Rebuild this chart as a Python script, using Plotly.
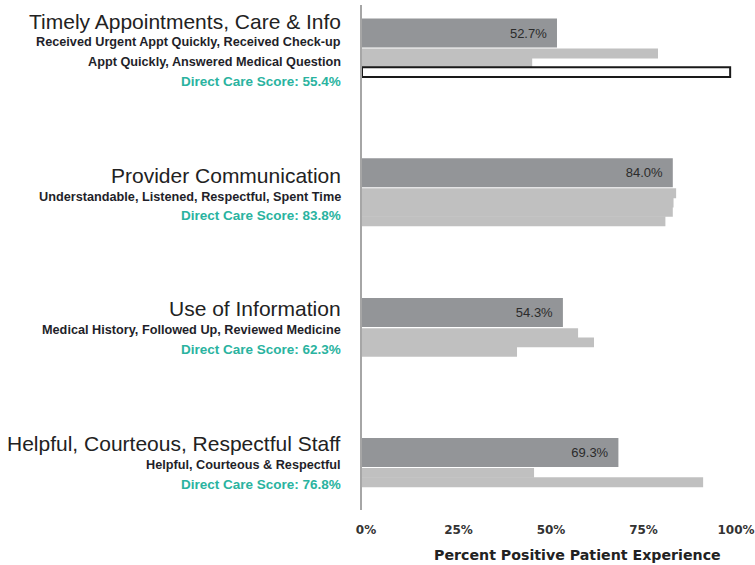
import plotly.graph_objects as go

# ---------------- data ----------------
groups = [
    "Timely Appointments, Care & Info",
    "Provider Communication",
    "Use of Information",
    "Helpful, Courteous, Respectful Staff",
]
subtitles = [
    ["Received Urgent Appt Quickly, Received Check-up", "Appt Quickly, Answered Medical Question"],
    ["Understandable, Listened, Respectful, Spent Time"],
    ["Medical History, Followed Up, Reviewed Medicine"],
    ["Helpful, Courteous & Respectful"],
]
direct_care_score = [55.4, 83.8, 62.3, 76.8]
composite = [52.7, 84.0, 54.3, 69.3]
item_scores = [
    [80.0, 46.0, 99.5],
    [84.9, 84.2, 84.0, 82.0],
    [58.4, 62.7, 41.9],
    [46.5, 92.2],
]
tick_vals = [0, 25, 50, 75, 100]
tick_text = ["0%", "25%", "50%", "75%", "100%"]
axis_title = "Percent Positive Patient Experience"

# ---------------- layout geometry (pixels) ----------------
W, H = 755, 565
L, R, T, B = 362, 5, 5, 55
plot_w = W - L - R
plot_h = H - T - B
px_per_pct = 3.7
group_px = 139.8          # vertical distance between groups
first_center_px = 28      # centre of first composite bar below plot top
dark_h_px = 29
sub_h_px = 9.3
sub_first_off_px = 20.5

def py_to_paper(py):
    return 1 - (py - T) / plot_h

# outlined item (group, index)
outlined = {(0, 2)}

# composite bars
dark_trace = go.Bar(
    orientation="h",
    x=composite,
    y=list(range(len(groups))),
    width=dark_h_px / group_px,
    marker=dict(color="#939598", line=dict(width=0)),
    text=composite,
    texttemplate="%{x:.1f}%\u00a0\u00a0",
    textposition="inside",
    insidetextanchor="end",
    textangle=0,
    textfont=dict(family="Liberation Sans, Arial", size=13, color="#2b2b2b"),
    hoverinfo="skip",
    showlegend=False,
)

sx, sy, scol, slw, slc = [], [], [], [], []
for gi, vals in enumerate(item_scores):
    for k, v in enumerate(vals):
        sx.append(v)
        sy.append(gi + (sub_first_off_px + sub_h_px * k) / group_px)
        if (gi, k) in outlined:
            scol.append("#ffffff")
            slw.append(2)
            slc.append("#1a1a1a")
        else:
            scol.append("#c0c0c0")
            slw.append(0)
            slc.append("#c0c0c0")

item_trace = go.Bar(
    orientation="h",
    x=sx,
    y=sy,
    width=(sub_h_px + 0.6) / group_px,
    marker=dict(color=scol, line=dict(width=slw, color=slc)),
    hoverinfo="skip",
    showlegend=False,
)

fig = go.Figure([item_trace, dark_trace])

y_top = -(first_center_px) / group_px
y_bot = (plot_h - first_center_px) / group_px

fig.update_layout(
    width=W, height=H,
    margin=dict(l=L, r=R, t=T, b=B, pad=0, autoexpand=False),
    paper_bgcolor="white", plot_bgcolor="white",
    barmode="overlay",
    xaxis=dict(
        range=[0, plot_w / px_per_pct],
        automargin=False,
        tickvals=tick_vals, ticktext=tick_text,
        showgrid=False, zeroline=False, showline=False,
        ticks="outside", ticklen=9, tickcolor="rgba(0,0,0,0)",
        ticklabelshift=4,
        ticklabeloverflow="allow",
        tickfont=dict(family="DejaVu Sans", size=12, color="#333333", weight="bold"),
    ),
    yaxis=dict(
        range=[y_bot, y_top],
        automargin=False,
        showticklabels=False, showgrid=False, zeroline=False,
        showline=True, linecolor="#a6a6a6", linewidth=2,
        ticks="",
    ),
)

annotations = []
title_px = [21, 175, 308, 443]
x_right = (343 - L) / plot_w
for gi, g in enumerate(groups):
    py = title_px[gi]
    annotations.append(dict(
        text=g, xref="paper", yref="paper", x=x_right, y=py_to_paper(py),
        xanchor="right", yanchor="middle", showarrow=False,
        font=dict(family="Liberation Sans, Arial", size=21, color="#222222"),
    ))
    py += 21.5
    for s in subtitles[gi]:
        annotations.append(dict(
            text=s, xref="paper", yref="paper", x=x_right, y=py_to_paper(py),
            xanchor="right", yanchor="middle", showarrow=False,
            font=dict(family="Liberation Sans, Arial", size=12.7, color="#1f1f2a", weight="bold"),
        ))
        py += 19.5
    annotations.append(dict(
        text=f"Direct Care Score: {direct_care_score[gi]:.1f}%",
        xref="paper", yref="paper", x=x_right, y=py_to_paper(py),
        xanchor="right", yanchor="middle", showarrow=False,
        font=dict(family="Liberation Sans, Arial", size=13.5, color="#2ab3a0", weight="bold"),
    ))

annotations.append(dict(
    text=axis_title, xref="paper", yref="paper",
    x=(577 - L) / plot_w, y=py_to_paper(555),
    xanchor="center", yanchor="middle", showarrow=False,
    font=dict(family="DejaVu Sans", size=14.2, color="#222222", weight="bold"),
))

fig.update_layout(annotations=annotations)
fig.write_html("out.html")
